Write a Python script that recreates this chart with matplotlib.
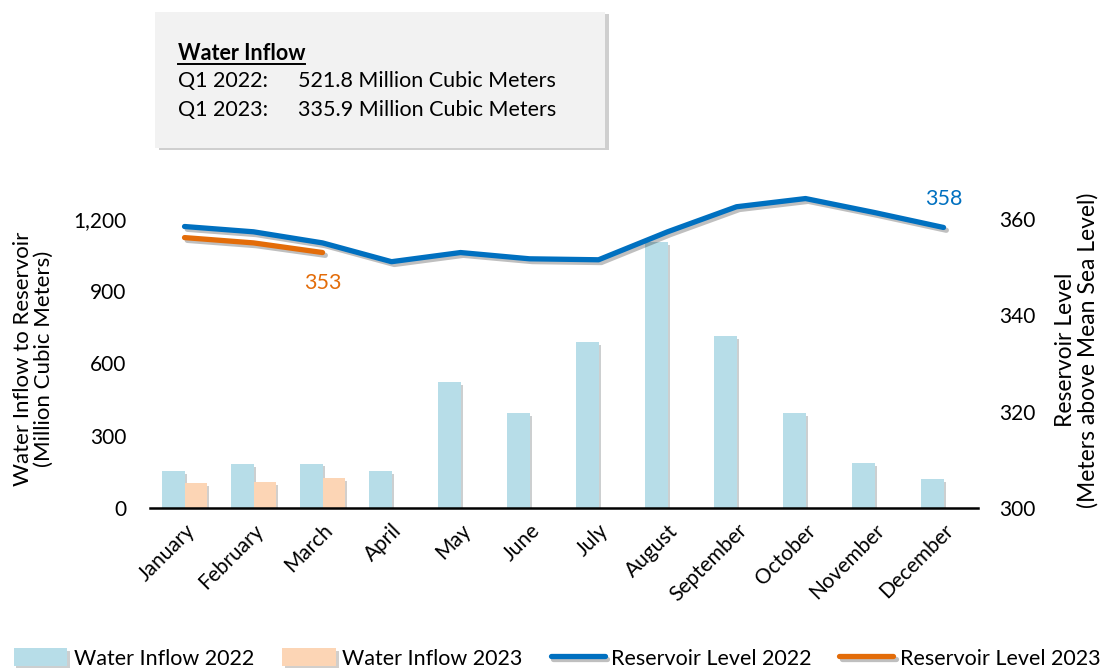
import numpy as np
import matplotlib
matplotlib.use("Agg")
import matplotlib.pyplot as plt
import matplotlib.patheffects as pe
from matplotlib.patches import Rectangle
from matplotlib.lines import Line2D
from matplotlib.ticker import FuncFormatter

plt.rcParams['font.family'] = ['Lato', 'DejaVu Sans']

# data
months = ['January', 'February', 'March', 'April', 'May', 'June', 'July',
          'August', 'September', 'October', 'November', 'December']
inflow_2022 = [152, 183, 184, 153, 523, 394, 689, 1104, 714, 394, 187, 120]
inflow_2023 = [104, 108, 124]
level_2022 = [358.4, 357.3, 355.0, 351.1, 353.0, 351.7, 351.5, 357.3, 362.5, 364.2, 361.3, 358.2]
level_2023 = [356.1, 355.0, 353.0]
q1_totals = ['521.8', '335.9']

c_bar22 = '#b7dde8'
c_bar23 = '#fcd5b5'
c_line22 = '#0070c0'
c_line23 = '#e36c09'

fig = plt.figure(figsize=(11.04, 6.68), dpi=100)
ax = fig.add_axes([0.1359, 0.2395, 0.7500, 0.5412])
ax2 = ax.twinx()

x = np.arange(len(months))
w = 0.32
shadow = [pe.SimplePatchShadow(offset=(2, -2), alpha=0.25), pe.Normal()]
b1 = ax.bar(x - w / 2, inflow_2022, w, color=c_bar22, zorder=2)
b2 = ax.bar(x[:len(inflow_2023)] + w / 2, inflow_2023, w, color=c_bar23, zorder=2)
for b in list(b1) + list(b2):
    b.set_path_effects(shadow)

lshadow = [pe.SimpleLineShadow(offset=(2, -2), alpha=0.25), pe.Normal()]
l1, = ax2.plot(x, level_2022, color=c_line22, lw=3.8, solid_capstyle='round',
               path_effects=lshadow)
l2, = ax2.plot(x[:len(level_2023)], level_2023, color=c_line23, lw=3.8,
               solid_capstyle='round', path_effects=lshadow)

ax2.annotate(f"{level_2022[-1]:.0f}", (x[-1], level_2022[-1]), xytext=(0, 13),
             textcoords='offset points', ha='center', va='bottom',
             color=c_line22, fontsize=15.5)
ax2.annotate(f"{level_2023[-1]:.0f}", (x[len(level_2023) - 1], level_2023[-1]),
             xytext=(0, -15), textcoords='offset points', ha='center', va='top',
             color=c_line23, fontsize=15.5)

ax.set_xlim(-0.5, 11.5)
ax.set_ylim(0, 1500)
ax2.set_ylim(300, 375)
ax.set_yticks([0, 300, 600, 900, 1200])
ax.yaxis.set_major_formatter(FuncFormatter(lambda v, p: f"{v:,.0f}"))
ax2.set_yticks([300, 320, 340, 360])
ax.set_xticks(x)
ax.set_xticklabels(months, rotation=45, ha='right', rotation_mode='anchor')

for a in (ax, ax2):
    for s in a.spines.values():
        s.set_visible(False)
    a.tick_params(length=0, labelsize=15)
ax.spines['bottom'].set_visible(True)
ax.spines['bottom'].set_linewidth(1.8)
ax.tick_params(axis='y', pad=17)
ax2.tick_params(axis='y', pad=15)
ax.tick_params(axis='x', pad=9)

ax.set_ylabel('Water Inflow to Reservoir\n(Million Cubic Meters)', fontsize=16,
              labelpad=14, linespacing=1.05)
ax2.set_ylabel('Reservoir Level\n(Meters above Mean Sea Level)', fontsize=16.5,
               labelpad=14.5, linespacing=1.05)
ax.yaxis.label.set_y(0.412)
ax2.yaxis.label.set_y(0.437)

# info box
fig.patches.append(Rectangle((0.1440, 0.7754), 0.4076, 0.2036, transform=fig.transFigure,
                             facecolor='#b0b0b0', edgecolor='none', alpha=0.6, zorder=0))
fig.patches.append(Rectangle((0.1404, 0.7784), 0.4076, 0.2036, transform=fig.transFigure,
                             facecolor='#f2f2f2', edgecolor='none', zorder=1))
head = fig.text(0.1612, 1 - 53 / 668, 'Water Inflow', fontsize=15.5, fontweight='bold', va='center')
fig.text(0.1612, 1 - 81 / 668, 'Q1 2022:', fontsize=15.5, va='center')
fig.text(0.2700, 1 - 81 / 668, f'{q1_totals[0]} Million Cubic Meters', fontsize=15.5, va='center')
fig.text(0.1612, 1 - 110 / 668, 'Q1 2023:', fontsize=15.5, va='center')
fig.text(0.2700, 1 - 110 / 668, f'{q1_totals[1]} Million Cubic Meters', fontsize=15.5, va='center')

# underline the heading
fig.canvas.draw()
bb = head.get_window_extent().transformed(fig.transFigure.inverted())
fig.lines.append(Line2D([bb.x0, bb.x1], [1 - 64 / 668] * 2, transform=fig.transFigure,
                        color='black', lw=1.4))

handles = [b1, b2, l1, l2]
labels = ['Water Inflow 2022', 'Water Inflow 2023', 'Reservoir Level 2022', 'Reservoir Level 2023']
fig.legend(handles, labels, loc='lower center', bbox_to_anchor=(0.5045, -0.03), ncol=4,
           frameon=False, fontsize=15.5, handlelength=2.5, columnspacing=1.3,
           handletextpad=0.3, handleheight=0.9)

fig.savefig('out.png', dpi=100)
